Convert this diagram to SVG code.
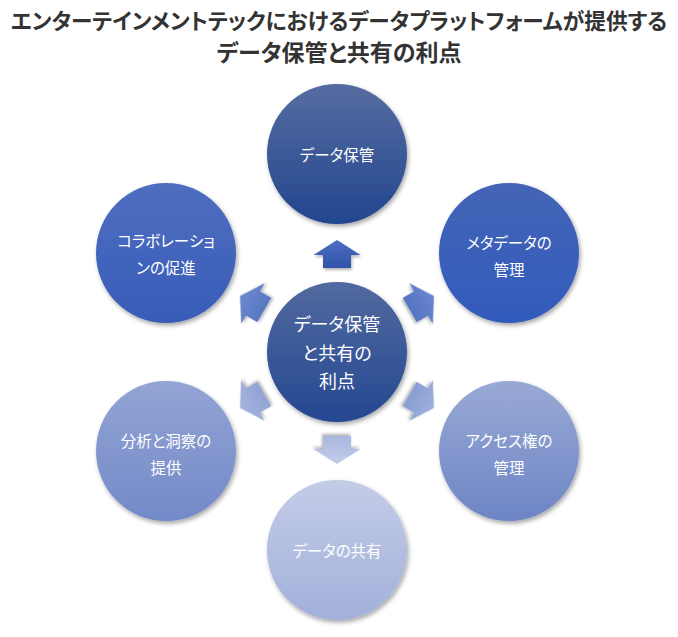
<svg xmlns="http://www.w3.org/2000/svg" width="678" height="637" viewBox="0 0 678 637">
<style>
.title{font-family:"Noto Sans CJK JP","Liberation Sans",sans-serif;font-weight:bold;font-size:23px;fill:#333333;text-anchor:middle;font-feature-settings:"palt";}
.t1{font-size:22px;}
.lbl{font-family:"Noto Sans CJK JP","Liberation Sans",sans-serif;font-size:15.5px;fill:#ffffff;text-anchor:middle;dominant-baseline:central;font-feature-settings:"palt";}
.clbl{font-family:"Noto Sans CJK JP","Liberation Sans",sans-serif;font-size:18px;fill:#ffffff;text-anchor:middle;dominant-baseline:central;font-feature-settings:"palt";}
.node circle{filter:url(#sh);}
.arr{filter:url(#sh2);}
</style>
<defs>
<filter id="sh" x="-20%" y="-20%" width="140%" height="140%">
<feDropShadow dx="1.5" dy="2.5" stdDeviation="2" flood-color="#000" flood-opacity="0.35"/>
</filter>
<filter id="sh2" x="-30%" y="-30%" width="160%" height="160%">
<feDropShadow dx="1" dy="2" stdDeviation="1.5" flood-color="#000" flood-opacity="0.3"/>
</filter>
<linearGradient id="gTop" x1="0" y1="0" x2="0" y2="1"><stop offset="0" stop-color="#566ca0"/><stop offset="1" stop-color="#22468e"/></linearGradient>
<linearGradient id="gCen" x1="0" y1="0" x2="0" y2="1"><stop offset="0" stop-color="#52699f"/><stop offset="1" stop-color="#244891"/></linearGradient>
<linearGradient id="gRT" x1="0" y1="0" x2="0" y2="1"><stop offset="0" stop-color="#4465b6"/><stop offset="1" stop-color="#325abc"/></linearGradient>
<linearGradient id="gLT" x1="0" y1="0" x2="0" y2="1"><stop offset="0" stop-color="#4e6ebf"/><stop offset="1" stop-color="#385cb8"/></linearGradient>
<linearGradient id="gRB" x1="0" y1="0" x2="0" y2="1"><stop offset="0" stop-color="#99a9d5"/><stop offset="1" stop-color="#6d85c5"/></linearGradient>
<linearGradient id="gLB" x1="0" y1="0" x2="0" y2="1"><stop offset="0" stop-color="#93a4d4"/><stop offset="1" stop-color="#7389c8"/></linearGradient>
<linearGradient id="gBot" x1="0" y1="0" x2="0" y2="1"><stop offset="0" stop-color="#c4cce7"/><stop offset="1" stop-color="#a2b0da"/></linearGradient>
<linearGradient id="aTop" x1="0" y1="0" x2="0" y2="1"><stop offset="0" stop-color="#4d6fc2"/><stop offset="1" stop-color="#2f53a8"/></linearGradient>
<linearGradient id="aRT" x1="0" y1="0" x2="0" y2="1"><stop offset="0" stop-color="#6a86cc"/><stop offset="1" stop-color="#5574c3"/></linearGradient>
<linearGradient id="aLT" x1="0" y1="0" x2="0" y2="1"><stop offset="0" stop-color="#6d89cd"/><stop offset="1" stop-color="#5877c4"/></linearGradient>
<linearGradient id="aRB" x1="0" y1="0" x2="0" y2="1"><stop offset="0" stop-color="#9fb0dc"/><stop offset="1" stop-color="#899dd3"/></linearGradient>
<linearGradient id="aLB" x1="0" y1="0" x2="0" y2="1"><stop offset="0" stop-color="#a5b5de"/><stop offset="1" stop-color="#90a3d5"/></linearGradient>
<linearGradient id="aBot" x1="0" y1="0" x2="0" y2="1"><stop offset="0" stop-color="#c3cce9"/><stop offset="1" stop-color="#a9b7df"/></linearGradient>
<path id="arrow" d="M0,-14 L23.5,1 L14,1 L14,14 L-14,14 L-14,1 L-23.5,1 Z"/>
</defs>
<rect width="678" height="637" fill="#ffffff"/>
<g id="title">
<text class="title t1" x="339" y="29" textLength="656" lengthAdjust="spacingAndGlyphs">エンターテインメントテックにおけるデータプラットフォームが提供する</text>
<text class="title" x="339" y="61">データ保管と共有の利点</text>
</g>
<g id="connectors">
<use href="#arrow" class="arr" fill="url(#aTop)" transform="translate(337,254)"/>
<use href="#arrow" class="arr" fill="url(#aRT)" transform="translate(421.9,303) rotate(60)"/>
<use href="#arrow" class="arr" fill="url(#aRB)" transform="translate(421.9,401) rotate(120)"/>
<use href="#arrow" class="arr" fill="url(#aBot)" transform="translate(337,450) rotate(180)"/>
<use href="#arrow" class="arr" fill="url(#aLB)" transform="translate(252.1,401) rotate(240)"/>
<use href="#arrow" class="arr" fill="url(#aLT)" transform="translate(252.1,303) rotate(300)"/>
</g>
<g id="node-center" class="node">
<circle cx="337" cy="352" r="70" fill="url(#gCen)"/>
<text class="clbl" x="337" y="323">データ保管</text>
<text class="clbl" x="337" y="352">と共有の</text>
<text class="clbl" x="337" y="380">利点</text>
</g>
<g id="node-storage" class="node">
<circle cx="337" cy="154" r="70" fill="url(#gTop)"/>
<text class="lbl" x="337" y="154">データ保管</text>
</g>
<g id="node-metadata" class="node">
<circle cx="509" cy="253" r="70" fill="url(#gRT)"/>
<text class="lbl" x="509" y="242">メタデータの</text>
<text class="lbl" x="509" y="269">管理</text>
</g>
<g id="node-access" class="node">
<circle cx="509" cy="451" r="70" fill="url(#gRB)"/>
<text class="lbl" x="509" y="440">アクセス権の</text>
<text class="lbl" x="509" y="467">管理</text>
</g>
<g id="node-sharing" class="node">
<circle cx="337" cy="550" r="70" fill="url(#gBot)"/>
<text class="lbl" x="337" y="550">データの共有</text>
</g>
<g id="node-analysis" class="node">
<circle cx="166" cy="451" r="70" fill="url(#gLB)"/>
<text class="lbl" x="166" y="440">分析と洞察の</text>
<text class="lbl" x="166" y="467">提供</text>
</g>
<g id="node-collab" class="node">
<circle cx="166" cy="253" r="70" fill="url(#gLT)"/>
<text class="lbl" x="166" y="240">コラボレーショ</text>
<text class="lbl" x="166" y="267">ンの促進</text>
</g>
</svg>
